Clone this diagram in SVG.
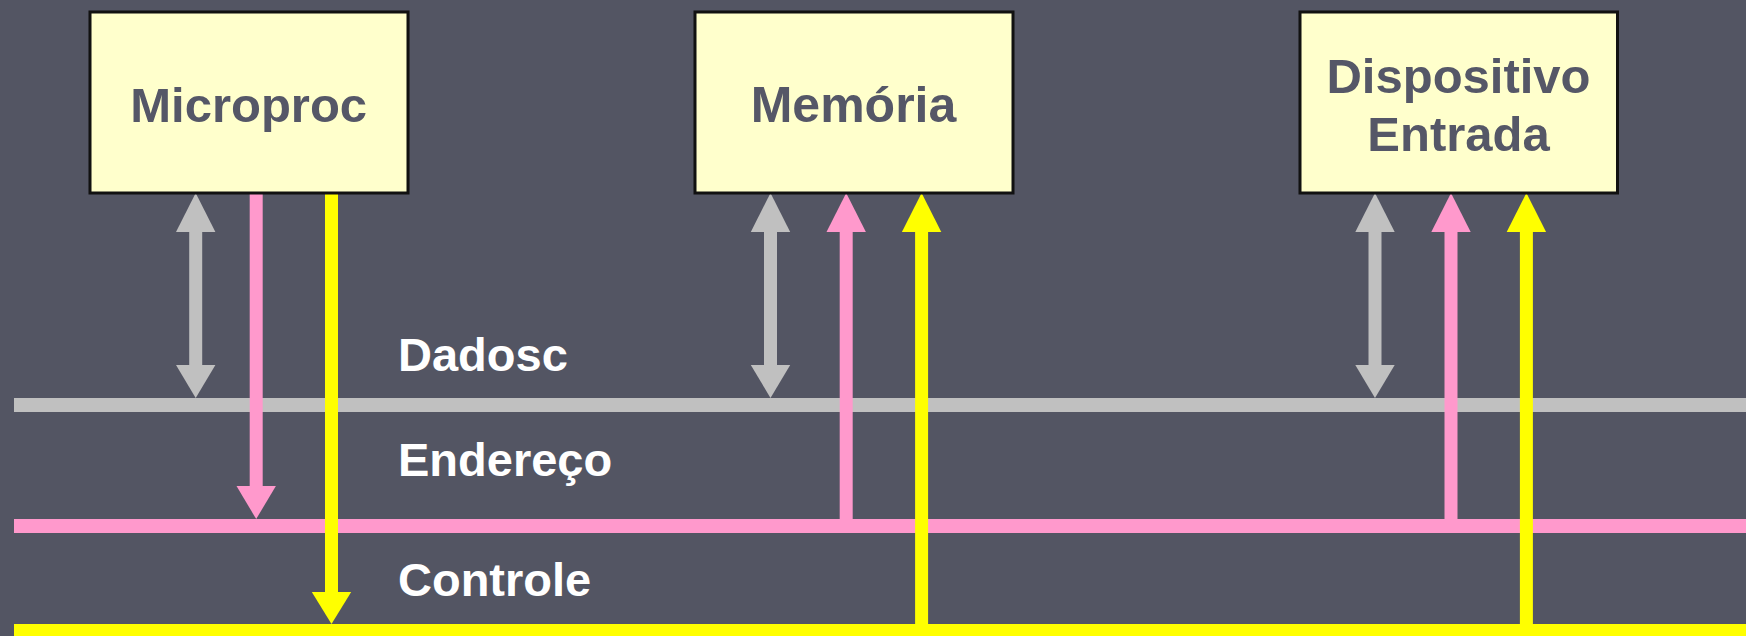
<svg xmlns="http://www.w3.org/2000/svg" width="1746" height="636" viewBox="0 0 1746 636">
  <style>
    .box { fill: #FFFFCC; stroke: #111111; stroke-width: 3; }
    .boxtxt { font-family: "Liberation Sans", Arial, sans-serif; font-weight: bold; fill: #555767; text-anchor: middle; }
    .lbl { font-family: "Liberation Sans", Arial, sans-serif; font-weight: bold; fill: #FFFFFF; font-size: 47px; }
    .g { fill: #C0C0C0; }
    .p { fill: #FF99CC; }
    .y { fill: #FFFF00; }
    .gs { stroke: #C0C0C0; stroke-width: 13; }
    .ps { stroke: #FF99CC; stroke-width: 13; }
    .ys { stroke: #FFFF00; stroke-width: 13; }
  </style>
  <rect x="0" y="0" width="1746" height="636" fill="#535563"/>

  <g id="bus-labels">
    <text class="lbl" x="398" y="371">Dadosc</text>
    <text class="lbl" x="398" y="476">Endereço</text>
    <text class="lbl" x="398" y="596">Controle</text>
  </g>

  <g id="buses">
    <rect id="bus-dados" class="g" x="14" y="398" width="1732" height="14"/>
    <rect id="bus-endereco" class="p" x="14" y="519" width="1732" height="14"/>
    <rect id="bus-controle" class="y" x="14" y="624" width="1732" height="14"/>
  </g>

  <g id="connectors">
    <!-- Microproc -->
    <line class="gs" x1="195.7" y1="230" x2="195.7" y2="367"/>
    <polygon class="g" points="176,232 215.4,232 195.7,193"/>
    <polygon class="g" points="176,365 215.4,365 195.7,398"/>
    <line class="ps" x1="256.2" y1="193" x2="256.2" y2="488"/>
    <polygon class="p" points="236.5,486 275.9,486 256.2,519"/>
    <line class="ys" x1="331.5" y1="193" x2="331.5" y2="594"/>
    <polygon class="y" points="311.8,592 351.2,592 331.5,624"/>
    <!-- Memoria -->
    <line class="gs" x1="770.5" y1="230" x2="770.5" y2="367"/>
    <polygon class="g" points="750.8,232 790.2,232 770.5,193"/>
    <polygon class="g" points="750.8,365 790.2,365 770.5,398"/>
    <line class="ps" x1="846.2" y1="230" x2="846.2" y2="519"/>
    <polygon class="p" points="826.5,232 865.9,232 846.2,193"/>
    <line class="ys" x1="921.6" y1="230" x2="921.6" y2="624"/>
    <polygon class="y" points="901.9,232 941.3,232 921.6,193"/>
    <!-- Dispositivo -->
    <line class="gs" x1="1375" y1="230" x2="1375" y2="367"/>
    <polygon class="g" points="1355.3,232 1394.7,232 1375,193"/>
    <polygon class="g" points="1355.3,365 1394.7,365 1375,398"/>
    <line class="ps" x1="1451" y1="230" x2="1451" y2="519"/>
    <polygon class="p" points="1431.3,232 1470.7,232 1451,193"/>
    <line class="ys" x1="1526.4" y1="230" x2="1526.4" y2="624"/>
    <polygon class="y" points="1506.7,232 1546.1,232 1526.4,193"/>
  </g>

  <g id="microproc">
    <rect class="box" x="90" y="12" width="318" height="181"/>
    <text class="boxtxt" x="248.7" y="122" font-size="49">Microproc</text>
  </g>
  <g id="memoria">
    <rect class="box" x="695" y="12" width="318" height="181"/>
    <text class="boxtxt" x="853.5" y="122" font-size="50">Memória</text>
  </g>
  <g id="dispositivo">
    <rect class="box" x="1300" y="12" width="317.5" height="181"/>
    <text class="boxtxt" x="1458.5" y="93" font-size="49">Dispositivo</text>
    <text class="boxtxt" x="1458.5" y="151" font-size="49">Entrada</text>
  </g>
</svg>
